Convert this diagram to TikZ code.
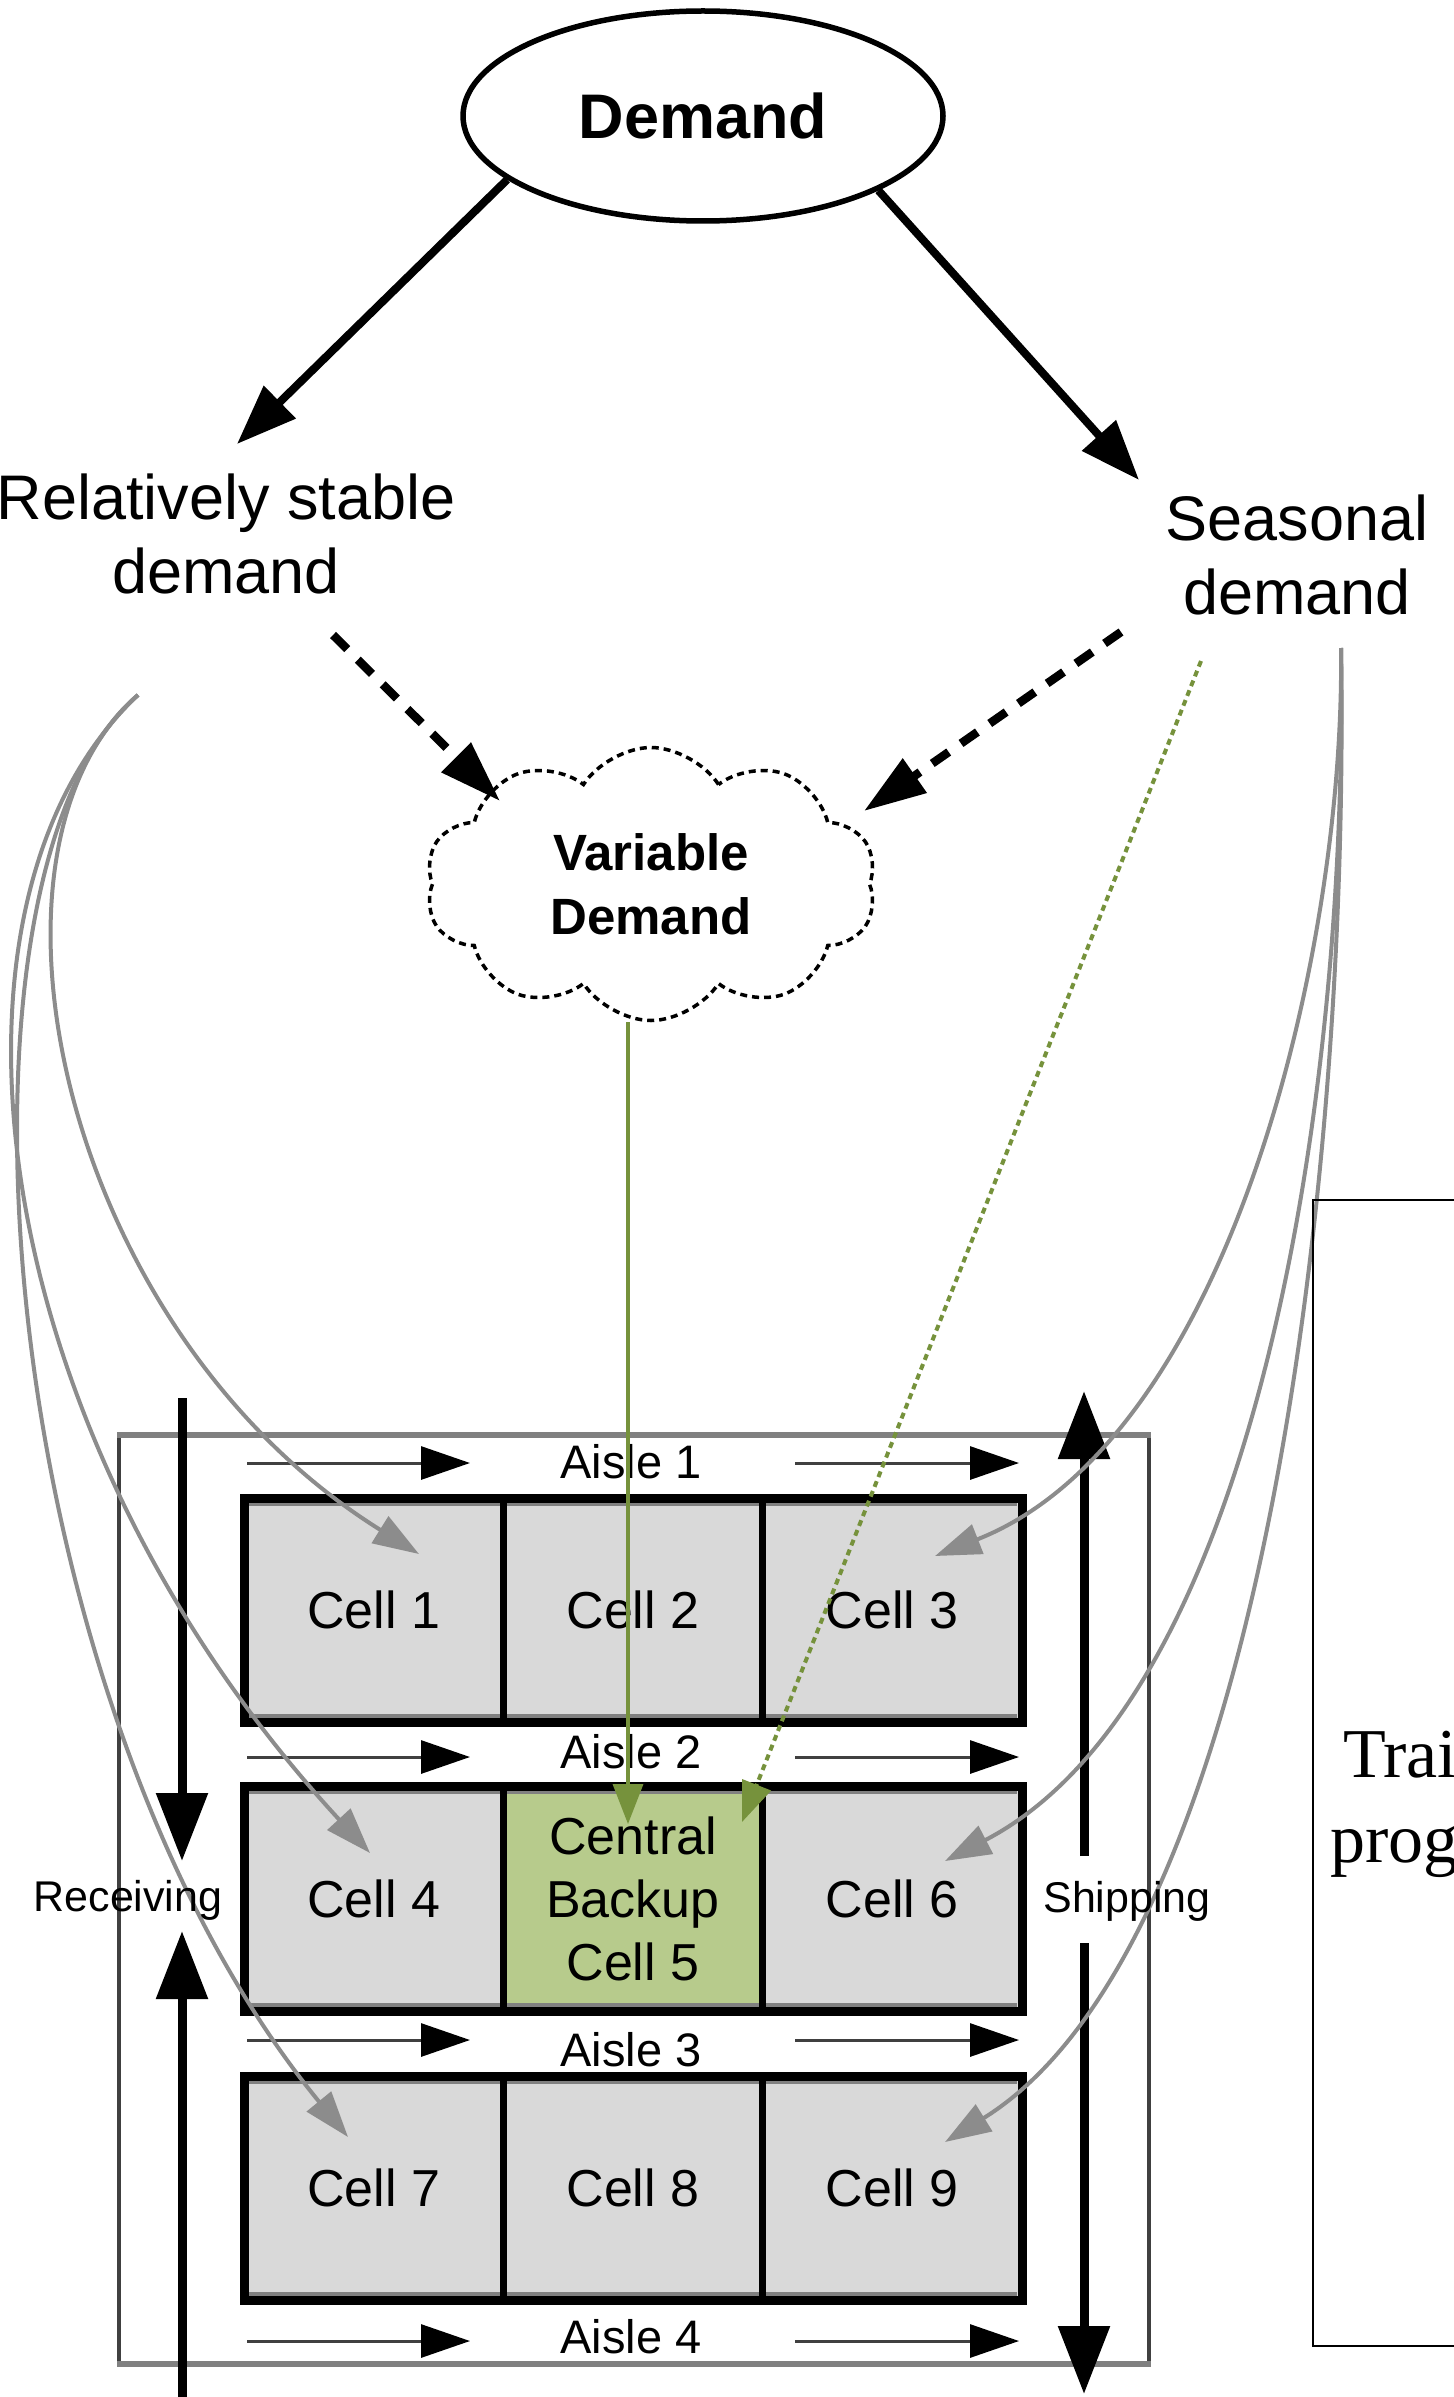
\documentclass[tikz,border=0pt]{standalone}
\usepackage{fontspec}
\setmainfont{Liberation Sans}
\newfontfamily\timesfont{Liberation Serif}
\usetikzlibrary{arrows.meta,shapes.geometric,shapes.symbols,calc}

\definecolor{cellgray}{HTML}{D9D9D9}
\definecolor{cellgreen}{HTML}{B7CB8C}
\definecolor{olive}{HTML}{76923C}
\definecolor{linkgray}{HTML}{8C8C8C}
\definecolor{aislegray}{HTML}{404040}
\definecolor{wallgray}{HTML}{808080}

\begin{document}
\begin{tikzpicture}[x=1pt,y=-1pt,
  lbl/.style={font=\fontsize{63}{74}\selectfont, align=center, inner sep=0pt},
  mainarrow/.style={line width=8pt, -{Triangle[length=60pt,width=44pt]}},
  dasharrow/.style={line width=8.5pt, dash pattern=on 20pt off 15pt, -{Triangle[length=62pt,width=40pt]}},
  cellbox/.style={rectangle, fill=cellgray, minimum width=259.33pt, minimum height=224pt,
    inner sep=0pt, font=\fontsize{52}{63}\selectfont, align=center},
  aislelbl/.style={font=\fontsize{47}{50}\selectfont, inner sep=0pt},
  aislearrow/.style={draw=aislegray, line width=3pt, -{Triangle[length=49pt,width=33pt,color=black]}},
  flowarrow/.style={line width=9pt, -{Triangle[length=68pt,width=50pt]}},
  sidelbl/.style={font=\fontsize{43}{45}\selectfont, inner sep=0pt},
  feed/.style={draw=linkgray, line width=4pt, -{Triangle[length=46pt,width=31pt]}},
  greenarrow/.style={draw=olive, line width=3.5pt, -{Triangle[length=40pt,width=30pt]}},
]
\useasboundingbox (0,0) rectangle (1453,2397);

% ---------- warehouse outline ----------
\draw[aislegray, line width=3.5pt] (119,1435) -- (119,2364);
\draw[aislegray, line width=3.5pt] (1149,1435) -- (1149,2364);
\draw[wallgray, line width=6.5pt] (117,1435) -- (1151,1435);
\draw[wallgray, line width=6.5pt] (117,2364) -- (1151,2364);

% ---------- storage cells ----------
\node[cellbox] (c1) at (373.67,1610) {Cell 1};
\node[cellbox] (c2) at (633,1610) {Cell 2};
\node[cellbox] (c3) at (892.33,1610) {Cell 3};
\node[cellbox] (c4) at (373.67,1898.5) {Cell 4};
\node[cellbox, fill=cellgreen] (c5) at (633,1898.5) {Central\\Backup\\Cell 5};
\node[cellbox] (c6) at (892.33,1898.5) {Cell 6};
\node[cellbox] (c7) at (373.67,2188) {Cell 7};
\node[cellbox] (c8) at (633,2188) {Cell 8};
\node[cellbox] (c9) at (892.33,2188) {Cell 9};

% row blocks: grey inner rims, black frames and dividers
\foreach \top/\bot in {1498/1722, 1786/2011, 2076/2300}{
  \draw[wallgray, line width=3.5pt] (249,\top+6) -- (1017,\top+6);
  \draw[wallgray, line width=3.5pt] (249,\bot-6) -- (1017,\bot-6);
  \draw[line width=9pt] (244,\top) rectangle (1022,\bot);
  \draw[line width=7pt] (503.33,\top) -- (503.33,\bot);
  \draw[line width=7pt] (762.67,\top) -- (762.67,\bot);
}

% ---------- aisles ----------
\foreach \i/\ya/\yt in {1/1463/1462, 2/1757/1752, 3/2040/2050, 4/2341/2337}{
  \node[aislelbl] (a\i) at (631,\yt) {Aisle \i};
  \coordinate (a\i l0) at (247,\ya);
  \coordinate (a\i l1) at (470,\ya);
  \coordinate (a\i r0) at (795,\ya);
  \coordinate (a\i r1) at (1019,\ya);
  \draw[aislearrow] (a\i l0) -- (a\i l1);
  \draw[aislearrow] (a\i r0) -- (a\i r1);
}

% ---------- receiving and shipping flows ----------
\coordinate (rcvtop) at (182,1398);
\coordinate (rcvtip) at (182,1861);
\coordinate (rcvbot) at (182,2420);
\coordinate (rcvup) at (182,1931);
\draw[flowarrow] (rcvtop) -- (rcvtip);
\draw[flowarrow] (rcvbot) -- (rcvup);

\coordinate (shplow) at (1084,1856);
\coordinate (shptip) at (1084,1391);
\coordinate (shpstart) at (1084,1943);
\coordinate (shpend) at (1084,2394);
\draw[flowarrow] (shplow) -- (shptip);
\draw[flowarrow] (shpstart) -- (shpend);

% ---------- demand tree ----------
\node[ellipse, draw, line width=5.5pt, minimum width=480pt, minimum height=210pt, inner sep=0pt,
  font=\bfseries\fontsize{63}{70}\selectfont] (dem) at (703,116) {Demand};

\node[lbl] (rel) at (226,534) {Relatively stable\\demand};
\node[lbl] (sea) at (1297,555) {Seasonal\\demand};

\coordinate (reltip) at (237,444);
\coordinate (seatip) at (1139,480);
\draw[mainarrow] (dem.198) -- (reltip);
\draw[mainarrow] (dem.337) -- (seatip);

\node[cloud, cloud puffs=10, cloud puff arc=115, aspect=1.65, draw, line width=3.5pt,
  dash pattern=on 7pt off 5pt, minimum width=451pt, minimum height=273pt, inner sep=0pt,
  font=\bfseries\fontsize{51}{64}\selectfont, align=center] (vd) at (651,884) {Variable\\Demand};

\coordinate (reldash) at (333,635);
\coordinate (vdl) at (500,801);
\coordinate (seadash) at (1121,632);
\coordinate (vdr) at (864,811);
\draw[dasharrow] (reldash) -- (vdl);
\draw[dasharrow] (seadash) -- (vdr);

% ---------- assignment links ----------
\coordinate (relfan) at (138,695);
\coordinate (seafan) at (1341,648);
\coordinate (t1) at (419,1554);
\coordinate (t4) at (370,1853);
\coordinate (t7) at (348,2137);
\coordinate (t3) at (935,1556);
\coordinate (t6) at (945,1861);
\coordinate (t9) at (945,2142);

\draw[feed] (relfan) .. controls (-40,850) and (60,1330) .. (t1);
\draw[feed] (relfan) .. controls (-80,900) and (-20,1430) .. (t4);
\draw[feed] (relfan) .. controls (-70,870) and (-10,1700) .. (t7);
\draw[feed] (seafan) .. controls (1345,950) and (1230,1440) .. (t3);
\draw[feed] (seafan) .. controls (1348,1100) and (1255,1700) .. (t6);
\draw[feed] (seafan) .. controls (1350,1200) and (1255,1950) .. (t9);

\coordinate (vdbot) at (628,1022);
\coordinate (g5a) at (628,1824);
\coordinate (seagreen) at (1201,661);
\coordinate (g5b) at (742,1822);
\draw[greenarrow] (vdbot) -- (g5a);
\draw[greenarrow, line width=4pt, dash pattern=on 6pt off 4.5pt] (seagreen) -- (g5b);

% side labels
\node[sidelbl] (recv) at (128,1900) {Receiving};
\node[sidelbl] (ship) at (1127,1901) {Shipping};

% ---------- training programme box ----------
\draw[line width=2pt] (1480,1200) -- (1313,1200) -- (1313,2346) -- (1480,2346);
\node[anchor=base west, inner sep=0pt, font=\timesfont\fontsize{70}{70}\selectfont] (tr1) at (1343,1777) {Trai};
\node[anchor=base west, inner sep=0pt, font=\timesfont\fontsize{70}{70}\selectfont] (tr2) at (1330,1862) {prog};
\end{tikzpicture}
\end{document}
